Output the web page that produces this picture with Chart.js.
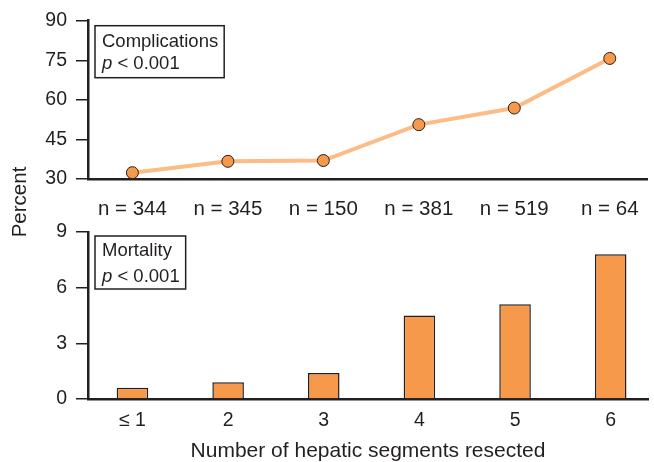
<!DOCTYPE html>
<html>
<head>
<meta charset="utf-8">
<script src="https://cdn.jsdelivr.net/npm/chart.js@4.4.1/dist/chart.umd.min.js"></script>
<style>
  html, body { margin: 0; padding: 0; background: #fff; overflow: hidden; }
  #wrap { position: relative; width: 654px; height: 462px; }
  #top { position: absolute; left: 0; top: 0; }
  #bottom { position: absolute; left: 0; top: 205px; }
</style>
</head>
<body>
<div id="wrap">
  <canvas id="top" width="654" height="240"></canvas>
  <canvas id="bottom" width="654" height="257"></canvas>
</div>
<script>
const segments = ["≤ 1", "2", "3", "4", "5", "6"];
const patients = [344, 345, 150, 381, 519, 64];
const complications = [32.4, 36.7, 37.0, 50.6, 56.9, 75.7];
const mortality = [0.6, 0.9, 1.4, 4.5, 5.1, 7.8];
const complicationTicks = [30, 45, 60, 75, 90];
const mortalityTicks = [0, 3, 6, 9];

const FONT = "'Liberation Sans', Arial, Helvetica, sans-serif";
const INK = "#231f20";
const ORANGE = "#f6994a";
const LIGHT = "#fdbc85";

Chart.defaults.font.family = FONT;
Chart.defaults.color = INK;

// box with a label and "p < 0.001" in the upper left corner of the plot
const noteBox = {
  id: "noteBox",
  afterDraw(chart, args, opts) {
    const ctx = chart.ctx;
    const a = chart.chartArea;
    const left = a.left + 7;
    const top = a.top + opts.dy;
    const f = "18.5px " + FONT;
    ctx.save();
    ctx.font = f;
    const w1 = ctx.measureText(opts.text).width;
    ctx.font = "italic " + f;
    const pw = ctx.measureText("p").width;
    ctx.font = f;
    const w2 = pw + ctx.measureText(" < 0.001").width;
    const w = Math.max(w1, w2) + 13;
    ctx.strokeStyle = INK;
    ctx.lineWidth = 1.5;
    ctx.fillStyle = "#fff";
    ctx.fillRect(left, top, w, opts.h);
    ctx.strokeRect(left, top, w, opts.h);
    ctx.fillStyle = INK;
    ctx.textBaseline = "alphabetic";
    ctx.fillText(opts.text, left + 7, top + opts.l1);
    ctx.font = "italic " + f;
    ctx.fillText("p", left + 7, top + opts.l2);
    ctx.font = f;
    ctx.fillText(" < 0.001", left + 7 + pw, top + opts.l2);
    ctx.restore();
  }
};

const percentLabel = {
  id: "percentLabel",
  afterDraw(chart) {
    const ctx = chart.ctx;
    ctx.save();
    ctx.translate(20, 202);
    ctx.rotate(-Math.PI / 2);
    ctx.font = "20.5px " + FONT;
    ctx.fillStyle = INK;
    ctx.textAlign = "center";
    ctx.textBaseline = "middle";
    ctx.fillText("Percent", 0, 0);
    ctx.restore();
  }
};

function xScale(labels, height, padding, size, title) {
  return {
    type: "linear",
    offset: false,
    min: 0.535,
    max: 6.39,
    afterBuildTicks: (s) => { s.ticks = segments.map((_, i) => ({ value: i + 1 })); },
    afterFit: (s) => { s.height = height; },
    grid: { display: false },
    border: { display: true, color: INK, width: 2.5 },
    ticks: {
      autoSkip: false,
      maxRotation: 0,
      padding: padding,
      color: INK,
      font: { size: size },
      callback: (v) => labels[v - 1]
    },
    title: title
  };
}

function yScale(min, max, tickVals) {
  return {
    min: min,
    max: max,
    afterBuildTicks: (s) => { s.ticks = tickVals.map((v) => ({ value: v })); },
    afterFit: (s) => { s.width = 88; },
    grid: { drawOnChartArea: false, drawTicks: true, tickLength: 12, tickColor: INK, lineWidth: 1.5 },
    border: { display: true, color: INK, width: 2.5 },
    ticks: { padding: 9, color: INK, font: { size: 19.5 } }
  };
}

new Chart(document.getElementById("top"), {
  type: "line",
  data: {
    datasets: [{
      data: complications.map((v, i) => ({ x: i + 1, y: v })),
      borderColor: LIGHT,
      borderWidth: 4,
      tension: 0,
      pointRadius: 6,
      pointBackgroundColor: ORANGE,
      pointBorderColor: INK,
      pointBorderWidth: 1
    }]
  },
  options: {
    responsive: false,
    animation: false,
    layout: { padding: { left: 0, right: 6, top: 19, bottom: 0 } },
    plugins: {
      legend: { display: false },
      tooltip: { enabled: false },
      noteBox: { text: "Complications", dy: 5, h: 52, l1: 21, l2: 43 }
    },
    scales: {
      x: xScale(patients.map((n) => "n = " + n), 61, 10, 20.5, { display: false }),
      y: yScale(30, 90, complicationTicks)
    }
  },
  plugins: [noteBox, percentLabel]
});

new Chart(document.getElementById("bottom"), {
  type: "bar",
  data: {
    datasets: [{
      data: mortality.map((v, i) => ({ x: i + 1, y: v })),
      backgroundColor: ORANGE,
      borderColor: INK,
      borderWidth: 1.5,
      barPercentage: 0.33,
      categoryPercentage: 1
    }]
  },
  options: {
    responsive: false,
    animation: false,
    layout: { padding: { left: 0, right: 6, top: 27, bottom: 0 } },
    plugins: {
      legend: { display: false },
      tooltip: { enabled: false },
      noteBox: { text: "Mortality", dy: 4, h: 53, l1: 20, l2: 46 }
    },
    scales: {
      x: xScale(segments, 63, 2, 19.5, {
        display: true,
        text: "Number of hepatic segments resected",
        color: INK,
        font: { size: 21, lineHeight: 1 },
        padding: { top: 4, bottom: 0 }
      }),
      y: yScale(0, 9, mortalityTicks)
    }
  },
  plugins: [noteBox]
});
</script>
</body>
</html>
